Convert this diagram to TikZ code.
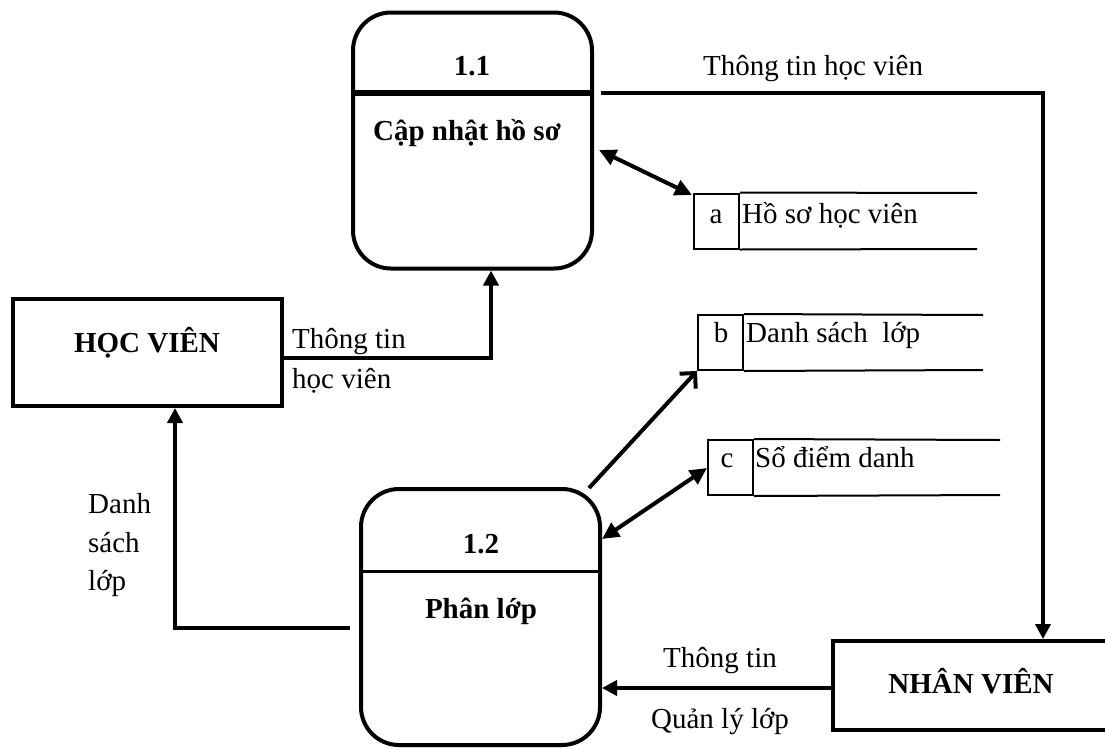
\documentclass[tikz,border=0pt]{standalone}
\usepackage{fontspec}
\setmainfont{Liberation Serif}
\usetikzlibrary{arrows.meta}
\begin{document}
\begin{tikzpicture}[x=1pt,y=-1pt,
  every node/.style={font=\fontsize{29}{34}\selectfont, inner sep=0pt},
  proc/.style={draw, line width=4pt, rounded corners=38pt, minimum width=239pt, minimum height=256pt},
  ext/.style={draw, line width=4pt, minimum width=269pt},
  cell/.style={draw, line width=2pt, minimum width=45pt, minimum height=55pt},
  bold/.style={font=\fontsize{29}{34}\selectfont\bfseries, anchor=base},
  lbl/.style={anchor=base west},
  flow/.style={line width=4pt, -{Triangle[length=15pt,width=15pt]}},
  bothflow/.style={line width=4pt, {Triangle[length=17pt,width=16pt]}-{Triangle[length=17pt,width=16pt]}},
  openflow/.style={line width=4pt, -{Straight Barb[length=11pt,width=22pt,line width=4pt]}},
  storeline/.style={line width=2pt}]
\clip (0,0) rectangle (1105,747);

% processes
\node[proc] (p11) at (472.5,140.5) {};
\draw[line width=6pt] (p11.west |- 0,93) -- (p11.east |- 0,93);
\node[bold] (n11) at (472,75) {1.1};
\node[bold] (t11) at (467,140) {Cập nhật hồ sơ};

\node[proc] (p12) at (480.5,617) {};
\draw[line width=3pt] (p12.west |- 0,571) -- (p12.east |- 0,571);
\node[bold] (n12) at (481,553) {1.2};
\node[bold] (t12) at (481,618) {Phân lớp};

% external entities
\node[ext, minimum height=107pt] (hv) at (147.5,352.5) {};
\node[bold] (thv) at (147,352) {HỌC VIÊN};
\node[ext, minimum width=300pt, minimum height=89pt] (nv) at (983,685.5) {};
\node[bold] (tnv) at (971,693) {NHÂN VIÊN};

% data stores
\node[cell] (sa) at (716.5,221) {};
\node[anchor=base] (la) at (716,223) {a};
\node[lbl] (ta) at (742,223) {Hồ sơ học viên};
\coordinate (sae1) at (977,193);
\coordinate (sae2) at (977,249);
\draw[storeline] (sa.north east) -- (sae1);
\draw[storeline] (sa.south east) -- (sae2);

\node[cell] (sb) at (720.5,342.5) {};
\node[anchor=base] (lb) at (721,342) {b};
\node[lbl] (tb) at (746,342) {Danh sách\ \ lớp};
\coordinate (sbe1) at (983,315);
\coordinate (sbe2) at (983,370);
\draw[storeline] (sb.north east) -- (sbe1);
\draw[storeline] (sb.south east) -- (sbe2);

\node[cell] (sc) at (730.5,467.5) {};
\node[anchor=base] (lc) at (727,467) {c};
\node[lbl] (tc) at (755,467) {Sổ điểm danh};
\coordinate (sce1) at (1000,440);
\coordinate (sce2) at (1000,495);
\draw[storeline] (sc.north east) -- (sce1);
\draw[storeline] (sc.south east) -- (sce2);

% flows
\coordinate (o11) at (601,93);
\coordinate (k11) at (1043,93);
\draw[flow] (o11) -- (k11) -- (k11 |- nv.north);
\node[lbl] (f1) at (703,75) {Thông tin học viên};

\coordinate (k21) at (491,358);
\draw[flow] (hv.east |- k21) -- (k21) -- (k21 |- p11.south);
\node[lbl] (f2a) at (292,348) {Thông tin};
\node[lbl] (f2b) at (292,388) {học viên};

\coordinate (o12) at (350,628);
\coordinate (k31) at (175,628);
\draw[flow] (o12) -- (k31) -- (k31 |- hv.south);
\node[lbl] (f3a) at (88,513) {Danh};
\node[lbl] (f3b) at (88,552) {sách};
\node[lbl] (f3c) at (88,590) {lớp};

\coordinate (k41) at (700,688);
\draw[flow] (nv.west |- k41) -- (p12.east |- k41);
\node[anchor=base] (f4a) at (720,667) {Thông tin};
\node[anchor=base] (f4b) at (720,728) {Quản lý lớp};

\coordinate (a11) at (599,150);
\coordinate (aa) at (692,195);
\draw[bothflow] (a11) -- (aa);

\coordinate (b12) at (589,488);
\draw[openflow] (b12) -- (sb.south west);

\coordinate (c12) at (602,539);
\coordinate (cc) at (707,468);
\draw[bothflow] (c12) -- (cc);
\end{tikzpicture}
\end{document}
